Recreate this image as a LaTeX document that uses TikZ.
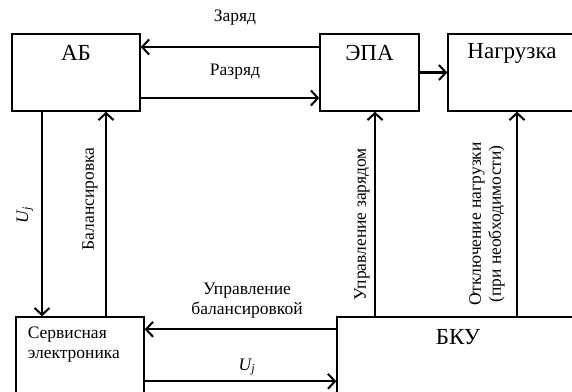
\documentclass[tikz,border=0pt]{standalone}
\usepackage{fontspec}
\setmainfont{Liberation Serif}
\usepackage{tikz}
\usetikzlibrary{arrows.meta, positioning, calc}

\begin{document}
\begin{tikzpicture}[
    x=1pt, y=-1pt,
    box/.style={rectangle, draw, line width=1.4pt, inner sep=0pt},
    boxtext/.style={font=\rmfamily\fontsize{23}{26}\selectfont},
    arr/.style={-{Straight Barb[length=7pt, width=15pt, line width=2pt]}, line width=2.2pt},
    every node/.style={font=\rmfamily\fontsize{17.5}{20}\selectfont}
]
\useasboundingbox (0,0) rectangle (572,391);
% Blocks
\node[box, minimum width=128pt, minimum height=77pt,
      label={[boxtext, anchor=center, yshift=-20pt]north:АБ}] (ab) at (76,72.5) {};
\node[box, minimum width=99pt, minimum height=77pt,
      label={[boxtext, anchor=center, yshift=-20pt]north:ЭПА}] (epa) at (369.5,72.5) {};
\node[box, minimum width=128pt, minimum height=77pt,
      label={[boxtext, anchor=center, yshift=-20pt]north:Нагрузка}] (load) at (512,72.5) {};
\node[box, minimum width=128pt, minimum height=100pt,
      label={[anchor=north west, align=left, xshift=9pt, yshift=-7pt]north west:Сервисная\\электроника}] (serv) at (80,367) {};
\node[box, minimum width=242pt, minimum height=100pt,
      label={[boxtext, anchor=center, yshift=-21pt]north:БКУ}] (bku) at (458,367) {};

% Power
\draw[arr] ([yshift=25.5pt]epa.west) -- ([yshift=25.5pt]epa.west -| ab.east);
\draw[arr] ([yshift=-25.5pt]ab.east) -- ([yshift=-25.5pt]ab.east -| epa.west);
\draw[arr] (epa) -- (load);
\node (charge) at (235,18) {Заряд};
\node (discharge) at (235,72) {Разряд};

% Measurement and balancing
\draw[arr] ([xshift=-34pt]ab.south) -- ([xshift=-34pt]ab.south |- serv.north);
\draw[arr] ([xshift=30pt]ab.south |- serv.north) -- ([xshift=30pt]ab.south);
\node[rotate=90] (uleft) at (25,215) {\textit{U\textsubscript{j}}};
\node[rotate=90] (bal) at (90,199) {Балансировка};

% Control unit
\draw[arr] ([yshift=-13pt]bku.north west) -- ([yshift=-13pt]bku.north west -| serv.east);
\draw[arr] ([yshift=-65pt]serv.north east) -- ([yshift=-65pt]serv.north east -| bku.west);
\node[align=center] (balctl) at (247,301) {Управление\\балансировкой};
\node (ubottom) at (247,367) {\textit{U\textsubscript{j}}};

\draw[arr] ([xshift=5.5pt]epa.south |- bku.north) -- ([xshift=5.5pt]epa.south);
\draw[arr] ([xshift=5pt]load.south |- bku.north) -- ([xshift=5pt]load.south);
\node[rotate=90] (chargectl) at (362,224) {Управление зарядом};
\node[rotate=90, align=center] (cutoff) at (487,224) {Отключение нагрузки\\(при необходимости)};
\end{tikzpicture}
\end{document}
